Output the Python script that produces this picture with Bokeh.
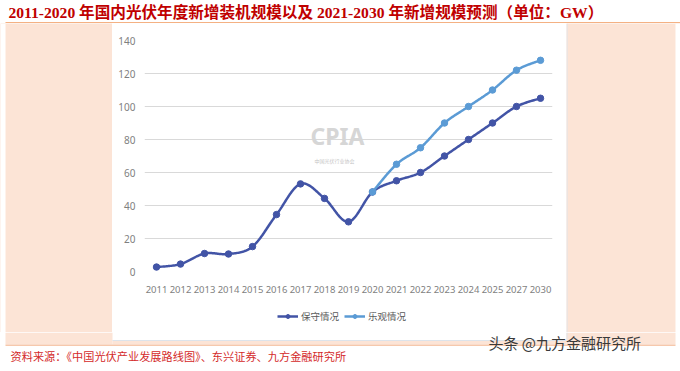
import numpy as np
from bokeh.plotting import figure
from bokeh.layouts import row, column
from bokeh.models import Range1d, FixedTicker, Label, Legend, LegendItem, BoxAnnotation
from bokeh.embed import file_html
from bokeh.resources import INLINE

# ---------------- data ----------------
years = ["2011", "2012", "2013", "2014", "2015", "2016", "2017", "2018", "2019",
         "2020", "2021", "2022", "2023", "2024", "2025", "2027", "2030"]
conservative = [2.7, 4.5, 10.9, 10.6, 15.1, 34.5, 53.1, 44.3, 30.1,
                48.2, 55, 60, 70, 80, 90, 100, 105]
optimistic_years = ["2020", "2021", "2022", "2023", "2024", "2025", "2027", "2030"]
optimistic = [48.2, 65, 75, 90, 100, 110, 122, 128]
y_ticks = [0, 20, 40, 60, 80, 100, 120, 140]

series_names = ["保守情况", "乐观情况"]
title_text = "2011-2020 年国内光伏年度新增装机规模以及 2021-2030 年新增规模预测（单位：GW）"
source_text = "资料来源：《中国光伏产业发展路线图》、东兴证券、九方金融研究所"
watermark_text = "头条 @九方金融研究所"

DARK = "#4254A6"
LIGHT = "#5B9BD5"
PEACH = "#FCE4D6"
EDGE = "#DDE3EA"
CJK = "Noto Sans CJK SC"
NUM = "'Liberation Sans Narrow', 'Noto Sans'"


def smooth(xs, ys, n=24):
    xs = np.asarray(xs, float)
    ys = np.asarray(ys, float)
    px = np.concatenate([[xs[0]], xs, [xs[-1]]])
    py = np.concatenate([[ys[0]], ys, [ys[-1]]])
    ox, oy = [], []
    m = len(xs)
    for i in range(m - 1):
        x0, x1, x2, x3 = px[i], px[i + 1], px[i + 2], px[i + 3]
        y0, y1, y2, y3 = py[i], py[i + 1], py[i + 2], py[i + 3]
        c1x, c1y = x1 + (x2 - x0) / 6, y1 + (y2 - y0) / 6
        c2x, c2y = x2 - (x3 - x1) / 6, y2 - (y3 - y1) / 6
        t = np.linspace(0, 1, n, endpoint=(i == m - 2))
        a = (1 - t) ** 3
        b = 3 * (1 - t) ** 2 * t
        c = 3 * (1 - t) * t ** 2
        d = t ** 3
        ox.extend(a * x1 + b * c1x + c * c2x + d * x2)
        oy.extend(a * y1 + b * c1y + c * c2y + d * y2)
    return ox, oy


idx_c = [years.index(y) for y in years]
idx_o = [years.index(y) for y in optimistic_years]


def blank(w, h, fill="white"):
    f = figure(width=w, height=h, output_backend="svg", toolbar_location=None,
               x_axis_type=None, y_axis_type=None,
               x_range=Range1d(0, w), y_range=Range1d(0, h),
               min_border_left=0, min_border_right=0, min_border_top=0, min_border_bottom=0,
               background_fill_color=fill, border_fill_color=fill)
    f.outline_line_color = None
    f.xgrid.visible = False
    f.ygrid.visible = False
    return f


def rect(f, left, right, bottom, top, color):
    f.add_layout(BoxAnnotation(left=left, right=right, bottom=bottom, top=top,
                               fill_color=color, fill_alpha=1, line_color=None))


# ---------------- title strip (page y 0..23) ----------------
top = blank(680, 23)
top.add_layout(Label(x=8, y=11, text=title_text,
                     text_font="'Liberation Serif', 'Noto Sans CJK SC'", text_font_size="15.6px",
                     text_font_style="bold", text_color="#C00000",
                     text_baseline="middle", text_align="left"))
rect(top, 5, 680, 0, 1.6, "#F4B183")

# ---------------- side panels (page y 23..332) ----------------
left = blank(112, 309, PEACH)
rect(left, 0, 5, 0, 309, "white")
right = blank(114, 309, PEACH)
rect(right, 109, 114, 0, 309, "white")
rect(right, 0, 1, 0, 309, EDGE)

# ---------------- main chart (page x 112..566, y 23..303) ----------------
p = figure(width=454, height=280, output_backend="svg", toolbar_location=None,
           x_range=Range1d(-0.5, len(years) - 0.5), y_range=Range1d(0, 140),
           min_border_left=32, min_border_right=14, min_border_top=17, min_border_bottom=32,
           background_fill_color="white", border_fill_color="white")
p.outline_line_color = None

p.xaxis.ticker = FixedTicker(ticks=list(range(len(years))))
p.xaxis.major_label_overrides = {i: y for i, y in enumerate(years)}
p.yaxis.ticker = FixedTicker(ticks=y_ticks)
for ax in (p.xaxis, p.yaxis):
    ax.axis_line_color = None
    ax.major_tick_line_color = None
    ax.minor_tick_line_color = None
    ax.major_tick_out = 0
    ax.major_tick_in = 0
    ax.major_label_text_color = "#7F7F7F"
    ax.major_label_text_font = NUM
p.xaxis.major_label_text_font_size = "9.5px"
p.yaxis.major_label_text_font_size = "10px"
p.xaxis.major_label_standoff = 14
p.yaxis.major_label_standoff = 9
p.xgrid.grid_line_color = None
p.ygrid.grid_line_color = "#D9D9D9"
p.ygrid.grid_line_width = 1

sx, sy = smooth(idx_c, conservative)
p.line(sx, sy, line_color=DARK, line_width=2.5)
p.scatter(idx_c, conservative, marker="circle", size=6.5, fill_color=DARK, line_color=DARK)
ox, oy = smooth(idx_o, optimistic)
p.line(ox, oy, line_color=LIGHT, line_width=2.5)
p.scatter(idx_o, optimistic, marker="circle", size=6.5, fill_color=LIGHT, line_color=LIGHT)

p.add_layout(Label(x=193, y=136, x_units="screen", y_units="screen", text="CPIA",
                   text_font=NUM, text_font_size="23px",
                   text_font_style="bold", text_color="#D6D6D6",
                   text_baseline="middle", text_align="center"))
p.add_layout(Label(x=190, y=111, x_units="screen", y_units="screen", text="中国光伏行业协会",
                   text_font=CJK, text_font_size="5px", text_color="#C4C4C4",
                   text_baseline="middle", text_align="center"))

# ---------------- legend strip (page x 112..566, y 303..332) ----------------
lg = blank(454, 29)
lg.extra_x_ranges = {"off": Range1d(1000, 1001)}
lr1 = lg.line(idx_c, conservative, line_color=DARK, line_width=2.5, x_range_name="off")
ls1 = lg.scatter(idx_c, conservative, marker="circle", size=6.5, fill_color=DARK,
                 line_color=DARK, x_range_name="off")
lr2 = lg.line(idx_o, optimistic, line_color=LIGHT, line_width=2.5, x_range_name="off")
ls2 = lg.scatter(idx_o, optimistic, marker="circle", size=6.5, fill_color=LIGHT,
                 line_color=LIGHT, x_range_name="off")
legend = Legend(items=[LegendItem(label=series_names[0], renderers=[lr1, ls1]),
                       LegendItem(label=series_names[1], renderers=[lr2, ls2])],
                location=(133, 9), orientation="horizontal",
                padding=0, margin=0, spacing=5, glyph_width=21, glyph_height=10,
                label_height=10, label_standoff=3,
                label_text_font=CJK, label_text_font_size="9.5px", label_text_color="#595959",
                background_fill_alpha=0, border_line_color=None)
lg.add_layout(legend)

# ---------------- bottom strip (page y 332..371) ----------------
bottom = blank(680, 39)
rect(bottom, 5, 112, 27, 39, PEACH)
rect(bottom, 566, 675, 27, 39, PEACH)
rect(bottom, 112, 566, 27, 31, PEACH)
rect(bottom, 112, 566, 30.5, 31.5, EDGE)
rect(bottom, 566, 567, 31, 39, EDGE)
rect(bottom, 5, 675, 25.5, 27, "#F6C8AC")
bottom.add_layout(Label(x=10, y=16, text=source_text,
                        text_font=CJK, text_font_size="11.2px", text_color="#D42A2A",
                        text_baseline="middle", text_align="left"))
bottom.add_layout(Label(x=488, y=29, text=watermark_text,
                        text_font=CJK, text_font_size="15px", text_color="#3A3A3A",
                        text_baseline="middle", text_align="left"))

page = column(top, row(left, column(p, lg), right), bottom)

open("out.html", "w").write(file_html(page, INLINE))
